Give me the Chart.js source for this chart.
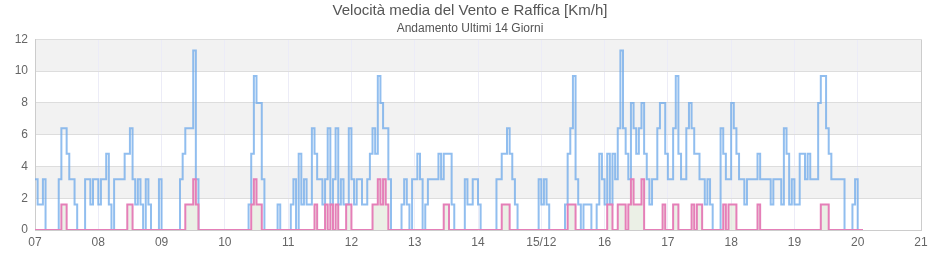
<!DOCTYPE html>
<html>
<head>
<meta charset="utf-8">
<script src="https://cdn.jsdelivr.net/npm/chart.js@4/dist/chart.umd.min.js"></script>
<style>
    html, body { margin: 0; padding: 0; background: #fff; }
    canvas { display: block; }
</style>
</head>
<body>
<canvas id="windChart" width="940" height="260"></canvas>
<script>
// Tick labels, one per day (07 -> 21 December)
const dayLabels = ['07', '08', '09', '10', '11', '12', '13', '14', '15/12', '16', '17', '18', '19', '20', '21'];
const hoursPerDay = 24;

// Raffica [km/h], one reading per hour starting 07 at 00:00
const gustValues = [
    3.2, 3.2, 1.6, 1.6, 3.2, 0, 0, 0, 0, 0, 3.2, 6.4, 6.4, 4.8, 3.2, 3.2, 1.6, 0, 0, 0, 3.2, 3.2, 1.6, 3.2,          // 07
    3.2, 1.6, 3.2, 3.2, 4.8, 1.6, 0, 3.2, 3.2, 3.2, 3.2, 4.8, 4.8, 6.4, 3.2, 1.6, 3.2, 1.6, 0, 3.2, 1.6, 0, 0, 0,    // 08
    3.2, 0, 0, 0, 0, 0, 0, 0, 3.2, 4.8, 6.4, 6.4, 6.4, 11.3, 3.2, 0, 0, 0, 0, 0, 0, 0, 0, 0,                         // 09
    0, 0, 0, 0, 0, 0, 0, 0, 0, 0, 1.6, 4.8, 9.7, 8.0, 8.0, 3.2, 0, 0, 0, 0, 0, 1.6, 0, 0,                            // 10
    0, 0, 1.6, 3.2, 0, 4.8, 1.6, 3.2, 1.6, 1.6, 6.4, 4.8, 3.2, 3.2, 1.6, 3.2, 6.4, 1.6, 3.2, 6.4, 1.6, 3.2, 1.6, 1.6, // 11
    6.4, 3.2, 1.6, 3.2, 3.2, 1.6, 1.6, 3.2, 4.8, 6.4, 4.8, 9.7, 8.0, 6.4, 6.4, 3.2, 0, 0, 0, 0, 1.6, 3.2, 1.6, 0,     // 12
    3.2, 3.2, 4.8, 3.2, 0, 1.6, 3.2, 3.2, 3.2, 3.2, 4.8, 3.2, 4.8, 4.8, 4.8, 1.6, 0, 0, 0, 0, 3.2, 1.6, 1.6, 3.2,     // 13
    3.2, 1.6, 0, 0, 0, 0, 0, 0, 3.2, 3.2, 4.8, 4.8, 6.4, 4.8, 3.2, 1.6, 0, 0, 0, 0, 0, 0, 0, 0,                      // 14
    3.2, 1.6, 3.2, 1.6, 0, 0, 0, 0, 0, 0, 1.6, 4.8, 6.4, 9.7, 3.2, 1.6, 0, 1.6, 1.6, 1.6, 0, 0, 1.6, 4.8,            // 15/12
    3.2, 1.6, 4.8, 1.6, 4.8, 3.2, 6.4, 11.3, 6.4, 4.8, 3.2, 8.0, 6.4, 4.8, 6.4, 8.0, 4.8, 3.2, 1.6, 3.2, 3.2, 6.4, 8.0, 8.0, // 16
    4.8, 3.2, 3.2, 6.4, 9.7, 4.8, 3.2, 3.2, 6.4, 8.0, 6.4, 4.8, 4.8, 3.2, 3.2, 1.6, 3.2, 1.6, 0, 0, 0, 6.4, 4.8, 3.2, // 17
    3.2, 8.0, 6.4, 4.8, 3.2, 3.2, 1.6, 3.2, 3.2, 3.2, 3.2, 4.8, 3.2, 3.2, 3.2, 3.2, 1.6, 3.2, 3.2, 3.2, 1.6, 6.4, 4.8, 1.6, // 18
    3.2, 1.6, 1.6, 4.8, 4.8, 3.2, 4.8, 3.2, 3.2, 3.2, 8.0, 9.7, 9.7, 6.4, 4.8, 3.2, 3.2, 3.2, 3.2, 3.2, 0, 0, 0, 1.6, // 19
    3.2, 0, 0                                                                                                           // 20
];

// Velocità media [km/h], same hours
const meanValues = [
    0, 0, 0, 0, 0, 0, 0, 0, 0, 0, 0, 1.6, 1.6, 0, 0, 0, 0, 0, 0, 0, 0, 0, 0, 0,             // 07
    0, 0, 0, 0, 0, 0, 0, 0, 0, 0, 0, 0, 1.6, 1.6, 0, 0, 0, 0, 0, 0, 0, 0, 0, 0,             // 08
    0, 0, 0, 0, 0, 0, 0, 0, 0, 0, 1.6, 1.6, 1.6, 3.2, 1.6, 0, 0, 0, 0, 0, 0, 0, 0, 0,       // 09
    0, 0, 0, 0, 0, 0, 0, 0, 0, 0, 0, 1.6, 3.2, 1.6, 1.6, 0, 0, 0, 0, 0, 0, 0, 0, 0,         // 10
    0, 0, 0, 0, 0, 0, 0, 0, 0, 0, 0, 1.6, 0, 0, 0, 1.6, 0, 1.6, 0, 1.6, 0, 0, 0, 1.6,       // 11
    1.6, 0, 0, 0, 0, 0, 0, 0, 0, 1.6, 1.6, 3.2, 1.6, 3.2, 1.6, 0, 0, 0, 0, 0, 0, 0, 0, 0,   // 12
    0, 0, 0, 0, 0, 0, 0, 0, 0, 0, 0, 0, 1.6, 1.6, 0, 0, 0, 0, 0, 0, 0, 0, 0, 0,             // 13
    0, 0, 0, 0, 0, 0, 0, 0, 0, 0, 1.6, 1.6, 1.6, 0, 0, 0, 0, 0, 0, 0, 0, 0, 0, 0,           // 14
    0, 0, 0, 0, 0, 0, 0, 0, 0, 0, 0, 1.6, 1.6, 1.6, 0, 0, 0, 0, 0, 0, 0, 0, 0, 0,           // 15/12
    0, 0, 1.6, 1.6, 0, 0, 1.6, 1.6, 1.6, 0, 1.6, 3.2, 1.6, 1.6, 1.6, 3.2, 0, 0, 0, 0, 0, 0, 0, 1.6, // 16
    0, 0, 0, 1.6, 1.6, 0, 0, 0, 0, 0, 1.6, 0, 1.6, 1.6, 0, 0, 0, 0, 0, 0, 0, 0, 1.6, 0,     // 17
    1.6, 1.6, 1.6, 0, 0, 0, 0, 0, 0, 0, 0, 1.6, 0, 0, 0, 0, 0, 0, 0, 0, 0, 0, 0, 0,         // 18
    0, 0, 0, 0, 0, 0, 0, 0, 0, 0, 0, 1.6, 1.6, 1.6, 0, 0, 0, 0, 0, 0, 0, 0, 0, 0,           // 19
    0, 0, 0                                                                                   // 20
];

const yMax = 12;
const yStep = 2;
const xMax = (dayLabels.length - 1) * hoursPerDay;

// hour index -> {x, y}
function toPoints(values) {
    return values.map((v, i) => ({ x: i, y: v }));
}

// Alternating grey bands behind the plot (2-4, 6-8, 10-12)
const bandsPlugin = {
    id: 'bands',
    beforeDraw(chart) {
        const { ctx, chartArea, scales } = chart;
        const y = scales.y;
        ctx.save();
        ctx.fillStyle = '#f2f2f2';
        for (let v = yStep; v < yMax; v += yStep * 2) {
            const top = y.getPixelForValue(v + yStep);
            const bottom = y.getPixelForValue(v);
            ctx.fillRect(chartArea.left, top, chartArea.right - chartArea.left, bottom - top);
        }
        ctx.restore();
    }
};

Chart.defaults.font.family = '"Liberation Sans", Arial, sans-serif';
Chart.defaults.color = '#666';

const ctx = document.getElementById('windChart').getContext('2d');

new Chart(ctx, {
    type: 'line',
    data: {
        datasets: [
            {
                label: 'Velocità media',
                data: toPoints(meanValues),
                borderColor: '#e57fb8',
                borderWidth: 2,
                stepped: 'after',
                fill: 'origin',
                backgroundColor: 'rgba(226, 234, 220, 0.7)',
                pointRadius: 0,
                order: 0
            },
            {
                label: 'Raffica',
                data: toPoints(gustValues),
                borderColor: 'rgba(108, 168, 234, 0.75)',
                borderWidth: 2,
                stepped: 'after',
                fill: false,
                pointRadius: 0,
                order: 1
            }
        ]
    },
    options: {
        responsive: false,
        animation: false,
        devicePixelRatio: 1,
        layout: { padding: 0 },
        plugins: {
            legend: { display: false },
            tooltip: { enabled: false },
            title: {
                display: true,
                text: 'Velocità media del Vento e Raffica [Km/h]',
                color: '#555',
                font: { size: 15, weight: 'normal' },
                padding: { top: 2, bottom: 0 }
            },
            subtitle: {
                display: true,
                text: 'Andamento Ultimi 14 Giorni',
                color: '#555',
                font: { size: 12, weight: 'normal' },
                padding: { top: 1, bottom: 4 }
            }
        },
        scales: {
            x: {
                type: 'linear',
                min: 0,
                max: xMax,
                afterFit: (scale) => { scale.height = 30; },
                ticks: {
                    stepSize: hoursPerDay,
                    autoSkip: false,
                    maxRotation: 0,
                    padding: 5,
                    font: { size: 12 },
                    callback: (v) => dayLabels[v / hoursPerDay]
                },
                grid: {
                    drawTicks: false,
                    color: (c) => (c.tick && c.tick.value === xMax ? '#ccc' : '#ececf7')
                },
                border: { color: '#ccc' }
            },
            y: {
                min: 0,
                max: yMax,
                afterFit: (scale) => { scale.width = 35; },
                ticks: {
                    stepSize: yStep,
                    padding: 7,
                    font: { size: 12 }
                },
                grid: { drawTicks: false, color: '#ddd' },
                border: { color: '#ccc' }
            },
            // empty right-hand strip so the plot ends where the reference does
            yRight: {
                position: 'right',
                min: 0,
                max: yMax,
                afterFit: (scale) => { scale.width = 19; },
                ticks: { display: false },
                grid: { drawOnChartArea: false, drawTicks: false },
                border: { display: false }
            }
        }
    },
    plugins: [bandsPlugin]
});
</script>
</body>
</html>
